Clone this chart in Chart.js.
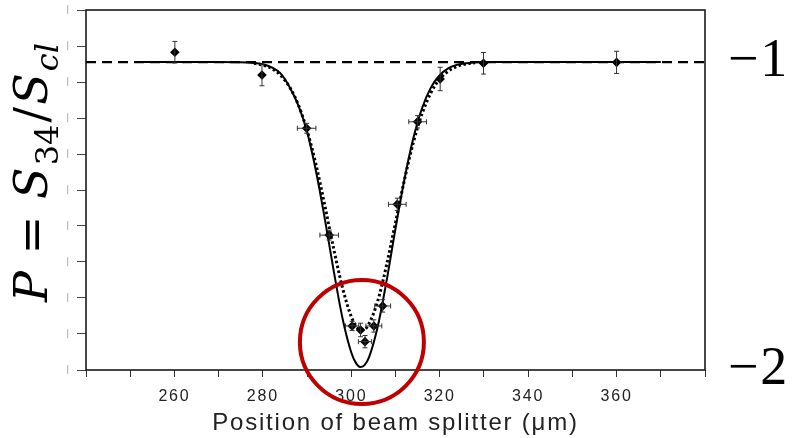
<!DOCTYPE html>
<html><head><meta charset="utf-8">
<script src="https://cdn.jsdelivr.net/npm/chart.js@4.4.1/dist/chart.umd.min.js"></script>
<style>html,body{margin:0;padding:0;background:#fff;} canvas{display:block;}</style>
</head><body>
<canvas id="c" width="793" height="438"></canvas>
<script>
// measured points (beam splitter position in µm, P value)
const positions = [260.1, 279.8, 289.9, 295.0, 300.2, 302.1, 303.1, 305.1, 307.1, 310.4, 315.0, 320.1, 329.9, 360.0];
const pValues   = [-0.968, -1.042, -1.215, -1.562, -1.857, -1.870, -1.908, -1.857, -1.792, -1.462, -1.194, -1.055, -1.004, -1.001];
const pErrors   = [0.035, 0.035, 0.016, 0.016, 0.015, 0.022, 0.020, 0.020, 0.020, 0.020, 0.020, 0.038, 0.035, 0.036];
const posErrors = [0, 0, 2.1, 2.1, 1.5, 0, 1.5, 1.8, 1.8, 2.0, 2.0, 0, 0, 0];

// solid theory curve
const theoryX = [252, 270, 278, 280, 282, 284, 286, 288, 290, 292, 294, 296, 298, 300, 301, 302, 303, 304, 306, 308, 310, 312, 314, 316, 318, 320, 322, 324, 326, 330, 370];
const theoryY = [-1.000, -1.000, -1.003, -1.007, -1.017, -1.037, -1.080, -1.140, -1.226, -1.353, -1.508, -1.676, -1.831, -1.943, -1.976, -1.990, -1.984, -1.959, -1.858, -1.709, -1.541, -1.382, -1.249, -1.150, -1.083, -1.043, -1.020, -1.009, -1.004, -1.000, -1.000];

// dotted fit curve
const fitX = [278, 280, 282, 284, 286, 288, 290, 292, 294, 296, 298, 300, 301, 302, 303, 304, 306, 308, 310, 312, 314, 316, 318, 320, 322, 324, 326, 328];
const fitY = [-1.004, -1.010, -1.021, -1.043, -1.080, -1.138, -1.222, -1.332, -1.465, -1.605, -1.732, -1.827, -1.855, -1.869, -1.868, -1.850, -1.775, -1.658, -1.521, -1.384, -1.263, -1.168, -1.100, -1.055, -1.029, -1.014, -1.006, -1.002];

// dashed classical reference
const refX = [240, 380];
const refY = [-1, -1];

// axes
const xMin = 240, xMax = 380;
const yMin = -2, yMax = -0.831;
const xTickLabels = ['260', '280', '300', '320', '340', '360'];
const yTickValues = [-2, -1.883, -1.766, -1.649, -1.532, -1.416, -1.299, -1.182, -1.065, -0.948, -0.831];
const rightTickValues = [-1, -2];
const rightTickLabels = ['\u22121', '\u22122'];
const xTitle = 'Position of beam splitter (\u03BCm)';
const yTitlePieces = [
  {t: 'P', it: true}, {t: ' = ', it: false}, {t: 'S', it: true}, {t: '34', sub: true},
  {t: '/', it: false}, {t: 'S', it: true}, {t: 'cl', it: true, sub: true}
];
const highlightCenter = [302.4, -1.909];

const pts = (xs, ys) => xs.map((x, i) => ({x, y: ys[i]}));

function fixBox(w, h) {
  return function (s) {
    if (w !== null) s.width = w;
    if (h !== null) s.height = h;
    s.paddingTop = 0; s.paddingBottom = 0; s.paddingLeft = 0; s.paddingRight = 0;
  };
}

const helper = {
  id: 'helper',
  beforeDraw(chart) { chart.ctx.letterSpacing = '1.8px'; },
  beforeDatasetsDraw(chart) {
    const {ctx, chartArea: a} = chart;
    ctx.save();
    ctx.letterSpacing = '0px';
    ctx.strokeStyle = '#1a1a1a';
    ctx.lineWidth = 1.6;
    ctx.strokeRect(a.left, a.top, a.right - a.left, a.bottom - a.top);
    ctx.restore();
  },
  afterDatasetsDraw(chart) {
    const ctx = chart.ctx;
    const xs = chart.scales.x, ys = chart.scales.y;
    ctx.save();
    ctx.strokeStyle = '#333';
    ctx.lineWidth = 1;
    positions.forEach((p, i) => {
      const px = xs.getPixelForValue(p), py = ys.getPixelForValue(pValues[i]);
      if (pErrors[i] > 0) {
        const y1 = ys.getPixelForValue(pValues[i] - pErrors[i]);
        const y2 = ys.getPixelForValue(pValues[i] + pErrors[i]);
        ctx.beginPath();
        ctx.moveTo(px, y1); ctx.lineTo(px, y2);
        ctx.moveTo(px - 2.5, y1); ctx.lineTo(px + 2.5, y1);
        ctx.moveTo(px - 2.5, y2); ctx.lineTo(px + 2.5, y2);
        ctx.stroke();
      }
      if (posErrors[i] > 0) {
        const x1 = xs.getPixelForValue(p - posErrors[i]);
        const x2 = xs.getPixelForValue(p + posErrors[i]);
        ctx.beginPath();
        ctx.moveTo(x1, py); ctx.lineTo(x2, py);
        ctx.moveTo(x1, py - 2.5); ctx.lineTo(x1, py + 2.5);
        ctx.moveTo(x2, py - 2.5); ctx.lineTo(x2, py + 2.5);
        ctx.stroke();
      }
    });
    ctx.restore();
    ctx.letterSpacing = '0px';
  },
  afterDraw(chart) {
    const ctx = chart.ctx;
    ctx.save();
    ctx.letterSpacing = '0px';
    // y title
    const big = 46, small = 32;
    const fontOf = (pc) => (pc.it ? 'italic ' : '') + (pc.sub ? small : big) + 'px "DejaVu Serif"';
    let widths = yTitlePieces.map(pc => { ctx.font = fontOf(pc); return ctx.measureText(pc.t).width; });
    const total = widths.reduce((a, b) => a + b, 0);
    const target = 259;
    const gap = (target - total) / (yTitlePieces.length - 1);
    ctx.translate(47, 302);
    ctx.rotate(-Math.PI / 2);
    ctx.fillStyle = '#000';
    ctx.textBaseline = 'alphabetic';
    let cx = 0;
    yTitlePieces.forEach((pc, i) => {
      ctx.font = fontOf(pc);
      ctx.fillText(pc.t, cx, pc.sub ? 11 : 0);
      cx += widths[i] + gap;
    });
    ctx.restore();
    // red highlight circle
    const xs = chart.scales.x, ys = chart.scales.y;
    ctx.save();
    ctx.strokeStyle = '#c00000';
    ctx.lineWidth = 4;
    ctx.beginPath();
    ctx.arc(xs.getPixelForValue(highlightCenter[0]), ys.getPixelForValue(highlightCenter[1]), 62, 0, Math.PI * 2);
    ctx.stroke();
    ctx.restore();
  }
};

new Chart(document.getElementById('c'), {
  type: 'scatter',
  data: {
    datasets: [
      {
        label: 'data', data: pts(positions, pValues),
        pointStyle: 'rectRot', pointRadius: 4.8, pointBackgroundColor: '#000', pointBorderColor: '#000',
        borderWidth: 0, showLine: false
      },
      {
        label: 'theory', data: pts(theoryX, theoryY), showLine: true,
        borderColor: '#000', borderWidth: 2, pointRadius: 0, cubicInterpolationMode: 'monotone', fill: false
      },
      {
        label: 'fit', data: pts(fitX, fitY), showLine: true,
        borderColor: '#000', borderWidth: 3, borderDash: [2.5, 2.5], pointRadius: 0, cubicInterpolationMode: 'monotone', fill: false
      },
      {
        label: 'classical', data: pts(refX, refY), showLine: true,
        borderColor: '#000', borderWidth: 2.2, borderDash: [10, 6], pointRadius: 0, fill: false
      }
    ]
  },
  options: {
    responsive: false,
    animation: false,
    devicePixelRatio: 1,
    layout: {padding: {top: 10, left: 0, right: 0, bottom: 0}},
    plugins: {legend: {display: false}, tooltip: {enabled: false}},
    scales: {
      x: {
        type: 'linear', position: 'bottom', min: xMin, max: xMax,
        afterFit: fixBox(null, 68),
        ticks: {
          stepSize: 10, autoSkip: false, maxRotation: 0, padding: 10,
          color: '#222', font: {family: '"Liberation Sans", Arial, sans-serif', size: 16},
          callback: (v) => { const s = String(Math.round(v)); return xTickLabels.includes(s) ? s : ''; }
        },
        grid: {drawOnChartArea: false, drawTicks: true, tickLength: 7, color: '#333', lineWidth: 1},
        border: {display: false},
        title: {
          display: true, text: xTitle, color: '#222',
          font: {family: '"Liberation Sans", Arial, sans-serif', size: 24},
          padding: {top: 0, bottom: 0}
        }
      },
      y: {
        type: 'linear', position: 'left', min: yMin, max: yMax,
        afterFit: fixBox(86, null),
        afterBuildTicks: (s) => { s.ticks = yTickValues.map(v => ({value: v})); },
        ticks: {
          padding: 6, color: '#999', font: {family: 'DejaVu Sans', size: 9},
          callback: () => '|'
        },
        grid: {drawOnChartArea: false, drawTicks: true, tickLength: 9, color: '#444', lineWidth: 1},
        border: {display: false}
      },
      y2: {
        type: 'linear', position: 'right', min: yMin, max: yMax, z: 1,
        afterFit: fixBox(88, null),
        afterBuildTicks: (s) => { s.ticks = rightTickValues.map(v => ({value: v})); },
        ticks: {
          padding: 23, color: '#000', font: {family: '"Liberation Serif", serif', size: 54},
          callback: (v) => { const i = rightTickValues.indexOf(v); return i >= 0 ? rightTickLabels[i] : ''; }
        },
        grid: {display: true, drawOnChartArea: false, drawTicks: false},
        border: {display: false}
      }
    }
  },
  plugins: [helper]
});
</script>
</body></html>
